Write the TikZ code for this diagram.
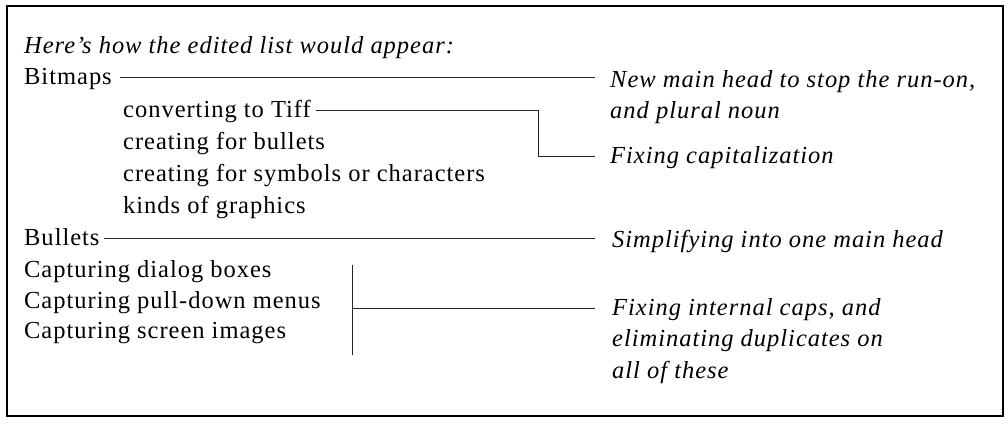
\documentclass[tikz,border=0pt]{standalone}
\usepackage{fontspec}
\setmainfont{Liberation Serif}[LetterSpace=4]
\begin{document}
\begin{tikzpicture}[x=1pt,y=-1pt,
  txt/.style={anchor=base west,inner sep=0pt,text height=15pt,text depth=1pt,font=\fontsize{24.5}{32}\selectfont},
  ann/.style={txt,font=\fontsize{24.5}{32}\selectfont\itshape},
  annm/.style={anchor=base west,inner sep=0pt,font=\fontsize{24.5}{31.5}\selectfont\itshape},
  conn/.style={line width=1pt,draw=black!85}]
\useasboundingbox (0,0) rectangle (1008,424);
\draw[line width=1.3pt] (7,6) rectangle (1003,416);
% left column
\node[ann] (head) at (24,53) {Here’s how the edited list would appear:};
\node[txt] (bitmaps) at (24,84) {Bitmaps};
\node[txt] (conv) at (123,117) {converting to Tiff};
\node[txt] (cbul) at (123,149) {creating for bullets};
\node[txt] (csym) at (123,181) {creating for symbols or characters};
\node[txt] (kinds) at (123,213) {kinds of graphics};
\node[txt] (bul) at (24,245) {Bullets};
\node[txt] (dialog) at (24,277) {Capturing dialog boxes};
\node[txt] (pull) at (24,308) {Capturing pull-down menus};
\node[txt] (screen) at (24,338) {Capturing screen images};
% annotations
\node[annm] (ann1) at (610,87) {\begin{tabular}[t]{@{}l@{}}New main head to stop the run-on,\\and plural noun\end{tabular}};
\node[ann] (ann2) at (610,163) {Fixing capitalization};
\node[ann] (ann3) at (612,247) {Simplifying into one main head};
\node[annm] (ann4) at (612,315) {\begin{tabular}[t]{@{}l@{}}Fixing internal caps, and\\eliminating duplicates on\\all of these\end{tabular}};
% connector geometry
\coordinate (rx) at (595,0);
\coordinate (k1) at (538,0);
\coordinate (bt) at (352,265);
\coordinate (bb) at (352,355);
% connectors
\draw[conn] ([xshift=8pt]bitmaps.east) -- (bitmaps.east -| rx);
\draw[conn] ([xshift=5pt]conv.east) -- (conv.east -| k1) |- (ann2.west -| rx);
\draw[conn] ([xshift=4pt]bul.east) -- (bul.east -| rx);
\draw[conn] (bt) -- (bb);
\draw[conn] (bt |- pull.base) -- (rx |- pull.base);
\end{tikzpicture}
\end{document}
